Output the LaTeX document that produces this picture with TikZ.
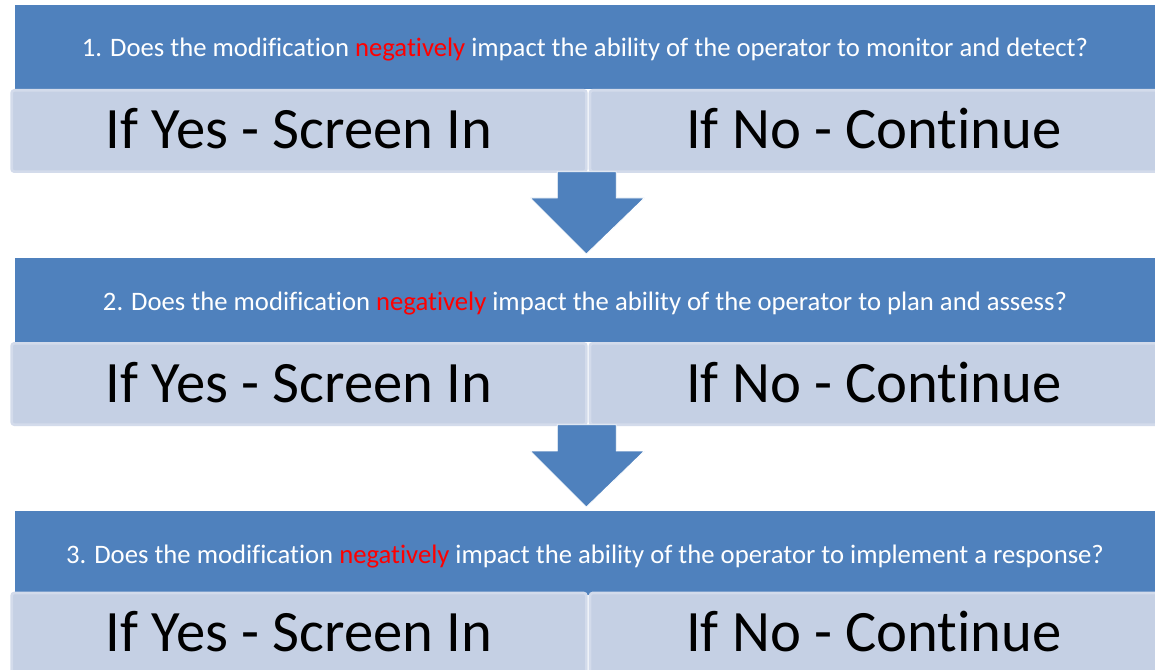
\documentclass[tikz,border=0pt]{standalone}
\usepackage{fontspec}
\setmainfont{Carlito}[Ligatures=NoCommon]
\usetikzlibrary{calc}
\definecolor{qblue}{HTML}{4F81BD}
\definecolor{lblue}{HTML}{C5D0E4}
\definecolor{lborder}{HTML}{D3DBEB}
\definecolor{negred}{HTML}{FF0000}
\tikzset{
  qbox/.style={fill=qblue, draw=none, inner sep=0pt, outer sep=0pt,
    minimum width=855pt, minimum height=63pt, text=white,
    text height=15pt, text depth=4pt,
    font=\fontsize{20}{24}\selectfont},
  abox/.style={fill=lblue, draw=lborder, line width=2pt, rounded corners=2pt,
    inner sep=0pt, outer sep=0pt, minimum height=61pt, text=black,
    text height=33pt, text depth=0pt,
    font=\fontsize{44}{50}\selectfont},
  yesbox/.style={abox, minimum width=431pt},
  nobox/.style={abox, minimum width=426pt},
  downarrow/.style={fill=qblue, draw=white, line width=0.6pt}
}
\newcommand{\negword}{{\color{negred}negatively}}
\begin{document}
\begin{tikzpicture}[x=0.75pt,y=-0.75pt]
\useasboundingbox (0,0) rectangle (1155,670);
% row 1
\node[qbox] (q1) at (585,47) {\raisebox{-2pt}{1. Does the modification \negword{} impact the ability of the operator to monitor and detect?}};
\node[yesbox] (yes1) at (299,131) {\raisebox{3pt}{If Yes - Screen In}};
\node[nobox] (no1) at (874,131) {\raisebox{3pt}{If No - Continue}};
% row 2
\node[qbox] (q2) at (585,300) {\raisebox{-2pt}{2. Does the modification \negword{} impact the ability of the operator to plan and assess?}};
\node[yesbox] (yes2) at (299,384) {\raisebox{3pt}{If Yes - Screen In}};
\node[nobox] (no2) at (874,384) {\raisebox{3pt}{If No - Continue}};
% row 3
\node[qbox] (q3) at (585,553) {\raisebox{-2pt}{3. Does the modification \negword{} impact the ability of the operator to implement a response?}};
\node[yesbox, minimum height=69pt] (yes3) at (299,639) {\raisebox{7.5pt}{If Yes - Screen In}};
\node[nobox, minimum height=69pt] (no3) at (874,639) {\raisebox{7.5pt}{If No - Continue}};
% arrows
\foreach \a/\b in {yes1/q2, yes2/q3}{
  \path (\a.south east) coordinate (s) (s |- \b.north) coordinate (t);
  \filldraw[downarrow] ($(s)+(-29,0)$) -- ($(s)+(30,0)$) -- ($(t)+(30,-60)$)
    -- ($(t)+(58,-60)$) -- ($(t)+(0,-4)$) -- ($(t)+(-56,-60)$)
    -- ($(t)+(-29,-60)$) -- cycle;
}
\end{tikzpicture}
\end{document}
